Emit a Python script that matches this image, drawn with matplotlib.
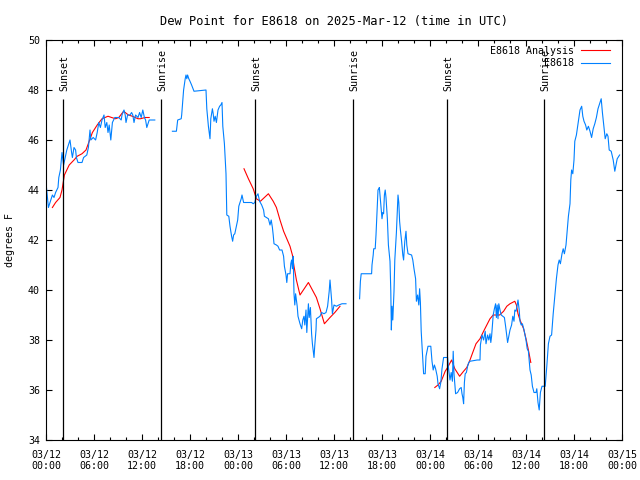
import numpy as np
import matplotlib
matplotlib.use('Agg')
import matplotlib.pyplot as plt
import matplotlib.dates as mdates
import matplotlib.transforms as mtransforms

# Hours after 2025-03-12 00:00 UTC and dew point (F); nan marks a gap in the record
obs_hours = [
    0.0, 0.3, 0.8, 1.0, 1.2, 1.5, 1.6, 1.8, 2.0, 2.2, 2.4, 2.6, 2.8, 3.0, 3.2, 3.3,
    3.5, 3.7, 3.8, 4.0, 4.5, 4.7, 5.1, 5.3, 5.5, 5.6, 5.9, 6.2, 6.4, 6.6, 6.8, 7.0,
    7.25, 7.4, 7.6, 7.75, 7.9, 8.1, 8.3, 8.6, 9.1, 9.4, 9.5, 9.75, 9.9, 10.0, 10.2,
    10.5, 10.7, 10.85, 11.0, 11.2, 11.5, 11.7, 11.9, 12.1, 12.3, 12.45, 12.6, 12.9,
    13.6, np.nan,
    15.8, 16.3, 16.46, 16.9, 16.96, 17.2, 17.4, 17.5, 17.6, 17.7, 17.85, 18.0, 18.2,
    18.5, 20.0, 20.1, 20.3, 20.5, 20.6, 20.8, 20.9, 21.0, 21.15, 21.3, 21.5, 21.7,
    21.85, 22.0, 22.1, 22.3, 22.5, 22.6, 22.85, 23.0, 23.2, 23.33, 23.45, 23.6, 23.8,
    23.96, 24.1, 24.4, 24.5, 24.7, 25.7, 25.9, 26.1, 26.3, 26.5, 26.7, 26.96, 27.2,
    27.3, 27.8, 28.0, 28.15, 28.3, 28.4, 28.5, 28.8, 29.0, 29.2, 29.5, 29.7, 29.8,
    30.0, 30.1, 30.2, 30.5, 30.6, 30.7, 30.8, 30.9, 31.0, 31.1, 31.2, 31.4, 31.5,
    31.75, 31.96, 32.1, 32.25, 32.35, 32.5, 32.6, 32.8, 32.9, 33.05, 33.2, 33.3,
    33.5, 33.6, 33.75, 33.8, 34.25, 34.45, 34.75, 35.0, 35.2, 35.4, 35.5, 35.7, 35.8,
    36.0, 36.3, 36.6, 37.0, 37.5, np.nan,
    39.2, 39.3, 39.4, 40.7, 40.75, 40.9, 40.96, 41.15, 41.25, 41.4, 41.5, 41.6, 41.67,
    41.8, 41.9, 42.0, 42.1, 42.2, 42.3, 42.4, 42.5, 42.67, 42.8, 43.0, 43.1, 43.17,
    43.25, 43.35, 43.5, 43.6, 43.8, 44.0, 44.1, 44.2, 44.3, 44.45, 44.6, 44.7, 44.85,
    45.0, 45.1, 45.25, 45.7, 45.85, 46.0, 46.2, 46.3, 46.45, 46.6, 46.7, 46.8, 46.9,
    47.1, 47.2, 47.4, 47.5, 47.75, 48.1, 48.25, 48.4, 48.55, 48.7, 48.9, 49.0, 49.2,
    49.35, 49.5, 49.7, 50.2, 50.3, 50.5, 50.65, 50.8, 50.9, 51.0, 51.2, 51.45, 51.7,
    51.9, 52.0, 52.1, 52.2, 52.3, 52.4, 52.55, 52.7, 52.85, 53.0, 53.9, 54.25, 54.3,
    54.5, 54.7, 54.9, 55.0, 55.2, 55.35, 55.5, 55.6, 55.7, 55.8, 55.9, 56.05, 56.2,
    56.3, 56.4, 56.5, 56.6, 56.75, 56.9, 57.3, 57.45, 57.6, 57.7, 57.85, 58.0, 58.2,
    58.35, 58.5, 58.6, 58.75, 58.9, 59.0, 59.15, 59.25, 59.4, 59.55, 59.75, 60.0,
    60.15, 60.3, 60.5, 60.65, 60.8, 61.0, 61.25, 61.35, 61.5, 61.65, 61.8, 62.0, 62.4,
    62.6, 62.8, 63.0, 63.2, 63.4, 63.6, 63.8, 64.0, 64.15, 64.3, 64.5, 64.65, 64.8,
    65.0, 65.2, 65.3, 65.5, 65.6, 65.7, 65.85, 66.0, 66.1, 66.3, 66.5, 66.75, 66.96,
    67.1, 67.25, 67.45, 67.6, 67.8, 68.0, 68.2, 68.4, 68.6, 68.8, 69.0, 69.2, 69.4,
    69.55, 69.7, 69.9, 70.1, 70.25, 70.4, 70.65, 70.9, 71.1, 71.25, 71.4, 71.7,
]
obs_dewpt = [
    44.3, 43.3, 43.8, 43.7, 43.9, 44.1, 44.5, 44.8, 45.5, 45.0, 45.3, 45.6, 45.8, 46.0,
    45.5, 45.3, 45.7, 45.6, 45.3, 45.1, 45.1, 45.3, 45.4, 45.7, 46.4, 46.0, 46.1, 46.0,
    46.3, 46.7, 46.5, 46.8, 47.0, 46.5, 46.7, 46.3, 46.6, 46.0, 46.7, 46.9, 46.9, 46.8,
    47.0, 47.2, 47.0, 46.7, 47.0, 47.0, 47.1, 47.0, 46.7, 47.0, 46.9, 47.1, 46.9, 47.2,
    46.9, 46.8, 46.5, 46.8, 46.8, np.nan,
    46.35, 46.35, 46.8, 46.85, 47.0, 48.0, 48.45, 48.6, 48.45, 48.6, 48.45, 48.35, 48.2,
    47.95, 48.0, 47.25, 46.55, 46.05, 46.85, 47.25, 47.05, 46.75, 46.95, 46.7, 47.2,
    47.35, 47.4, 47.5, 46.55, 45.85, 44.65, 43.0, 42.95, 42.55, 42.15, 41.95, 42.2,
    42.25, 42.55, 42.8, 43.35, 43.65, 43.8, 43.5, 43.5, 43.45, 43.5, 43.75, 43.85,
    43.55, 43.4, 43.2, 42.95, 42.85, 42.6, 42.8, 42.5, 42.2, 41.85, 41.8, 41.75, 41.6,
    41.6, 41.35, 40.95, 40.6, 40.3, 40.65, 40.65, 41.05, 41.2, 40.85, 41.35, 39.85,
    39.4, 39.85, 39.35, 38.95, 38.65, 38.45, 38.8, 38.95, 38.6, 39.2, 38.3, 39.45,
    38.9, 39.3, 38.25, 37.85, 37.3, 37.8, 38.4, 38.85, 38.95, 39.1, 39.05, 39.1, 39.35,
    39.95, 40.4, 39.6, 39.05, 39.4, 39.35, 39.4, 39.45, 39.45, np.nan,
    39.65, 40.35, 40.65, 40.65, 41.0, 41.4, 41.65, 41.65, 42.2, 43.3, 44.0, 44.05, 44.1,
    43.6, 43.2, 42.85, 43.1, 43.05, 43.8, 44.0, 43.7, 42.85, 41.8, 41.15, 39.95, 38.4,
    39.35, 38.8, 39.95, 41.2, 42.3, 43.8, 43.5, 42.75, 42.4, 41.95, 41.4, 41.2, 41.95,
    42.35, 41.8, 41.45, 41.4, 41.2, 40.85, 40.45, 39.55, 39.8, 39.4, 40.05, 39.5, 38.35,
    37.2, 36.65, 36.65, 37.35, 37.75, 37.75, 37.15, 36.8, 37.0, 36.85, 36.55, 36.25,
    36.05, 36.3, 36.85, 37.3, 37.3, 36.9, 36.4, 36.7, 36.35, 37.55, 36.65, 35.85, 35.9,
    36.05, 36.1, 35.85, 35.7, 35.45, 36.3, 36.65, 36.7, 36.95, 37.1, 37.15, 37.2, 37.2,
    37.8, 38.2, 38.0, 38.35, 37.85, 38.2, 38.0, 38.25, 37.9, 38.15, 38.55, 39.0, 39.25,
    39.45, 38.9, 39.4, 38.85, 39.45, 39.2, 39.0, 38.9, 38.55, 38.15, 37.9, 38.15, 38.4,
    38.6, 38.95, 38.75, 39.2, 39.15, 39.4, 39.6, 39.2, 38.75, 38.6, 38.65, 38.4, 38.0,
    37.65, 37.55, 36.8, 36.6, 36.15, 35.9, 35.9, 36.05, 35.5, 35.2, 35.9, 36.15, 36.15,
    36.95, 37.85, 38.15, 38.2, 39.05, 39.75, 40.45, 41.0, 41.2, 41.05, 41.45, 41.65,
    41.45, 41.8, 42.55, 42.95, 43.45, 44.4, 44.8, 44.65, 45.2, 45.95, 46.2, 46.65, 47.2,
    47.35, 46.95, 46.75, 46.6, 46.4, 46.55, 46.35, 46.1, 46.45, 46.65, 46.9, 47.25,
    47.45, 47.65, 47.1, 46.65, 46.05, 46.25, 46.15, 45.6, 45.55, 45.2, 44.75, 45.0,
    45.25, 45.4,
]

ana_hours = [
    0.8, 1.2, 1.75, 2.0, 2.3, 2.9, 3.5, 3.9, 4.5, 5.0, 5.4, 5.8, 6.4, 7.0, 7.75, 8.2,
    8.7, 9.1, 9.7, 10.3, 10.8, 11.5, 11.8, 12.4, 12.9, np.nan,
    24.75, 25.3, 25.9, 26.3, 26.8, 27.8, 28.4, 28.8, 29.25, 29.7, 30.1, 30.5, 30.8,
    31.0, 31.3, 31.75, 32.8, 33.3, 33.8, 34.25, 34.8, 35.5, 36.1, 36.75, np.nan,
    48.6, 49.0, 49.4, 49.9, 50.2, 50.7, 51.1, 51.7, 52.2, 52.6, 53.0, 53.4, 53.75,
    54.25, 54.7, 55.1, 55.5, 55.9, 56.7, 57.2, 57.6, 58.0, 58.6, 58.8, 59.0, 59.25,
    59.7, 60.0, 60.3, 60.6,
]
ana_dewpt = [
    43.3, 43.5, 43.7, 44.0, 44.6, 45.0, 45.2, 45.35, 45.45, 45.6, 45.95, 46.3, 46.6,
    46.85, 46.95, 46.9, 46.85, 46.9, 47.15, 47.0, 46.95, 46.85, 46.85, 46.9, 46.9, np.nan,
    44.85, 44.45, 44.05, 43.65, 43.55, 43.85, 43.55, 43.3, 42.8, 42.35, 42.05, 41.75,
    41.4, 40.95, 40.4, 39.8, 40.3, 40.0, 39.7, 39.25, 38.65, 38.9, 39.1, 39.35, np.nan,
    36.1, 36.2, 36.35, 36.75, 36.9, 37.2, 36.85, 36.55, 36.75, 36.9, 37.2, 37.55, 37.85,
    38.05, 38.35, 38.6, 38.85, 39.0, 39.0, 39.15, 39.35, 39.45, 39.55, 39.4, 39.05,
    38.8, 38.45, 38.05, 37.6, 37.1,
]

sun_hours = [2.125, 14.375, 26.125, 38.375, 50.125, 62.25]
sun_labels = ['Sunset', 'Sunrise', 'Sunset', 'Sunrise', 'Sunset', 'Sunrise']

start = mdates.date2num(np.datetime64('2025-03-12T00:00'))


def to_dates(hours):
    return start + np.array(hours, dtype=float) / 24.0


plt.rcParams['font.family'] = 'DejaVu Sans Mono'
plt.rcParams['font.size'] = 7.2

fig = plt.figure(figsize=(6.4, 4.8), dpi=100)
ax = fig.add_axes([46 / 640, 40 / 480, 576 / 640, 400 / 480])

ax.plot(to_dates(ana_hours), ana_dewpt, color='#ff0000', lw=0.8, label='E8618 Analysis')
ax.plot(to_dates(obs_hours), obs_dewpt, color='#0080ff', lw=0.8, label='E8618')

# sunrise / sunset markers
sun_x = to_dates(sun_hours)
ax.vlines(sun_x, 34, 47.64, color='black', lw=0.9)
shift = mtransforms.offset_copy(ax.transData, fig=fig, x=1.3, y=0, units='dots')
for x, lab in zip(sun_x, sun_labels):
    ax.text(x, 47.95, lab, rotation=90, ha='center', va='bottom', transform=shift)

ax.set_xlim(to_dates([0])[0], to_dates([72])[0])
ax.set_ylim(34, 50)
ax.set_yticks(range(34, 51, 2))
ax.xaxis.set_major_locator(mdates.HourLocator(byhour=range(0, 24, 6)))
ax.xaxis.set_minor_locator(mdates.HourLocator(byhour=range(0, 24, 2)))
ax.xaxis.set_major_formatter(mdates.DateFormatter('%m/%d\n%H:%M'))

ax.tick_params(which='both', direction='in', top=True, right=True, width=0.8)
ax.tick_params(which='major', length=4.3)
ax.tick_params(which='minor', length=2.2)
ax.tick_params(axis='x', which='major', pad=7)
ax.tick_params(axis='y', pad=4.3)
for s in ax.spines.values():
    s.set_linewidth(0.8)

ax.set_title('Dew Point for E8618 on 2025-Mar-12 (time in UTC)', pad=11)
ax.set_ylabel('degrees F')
ax.yaxis.set_label_coords(-0.054, 0.5)

ax.legend(loc='upper right', bbox_to_anchor=(0.979, 0.985), frameon=False,
          markerfirst=False, borderpad=0, borderaxespad=0, handlelength=2.9,
          handletextpad=0.7, labelspacing=0.25)

plt.savefig('out.png', dpi=100)
